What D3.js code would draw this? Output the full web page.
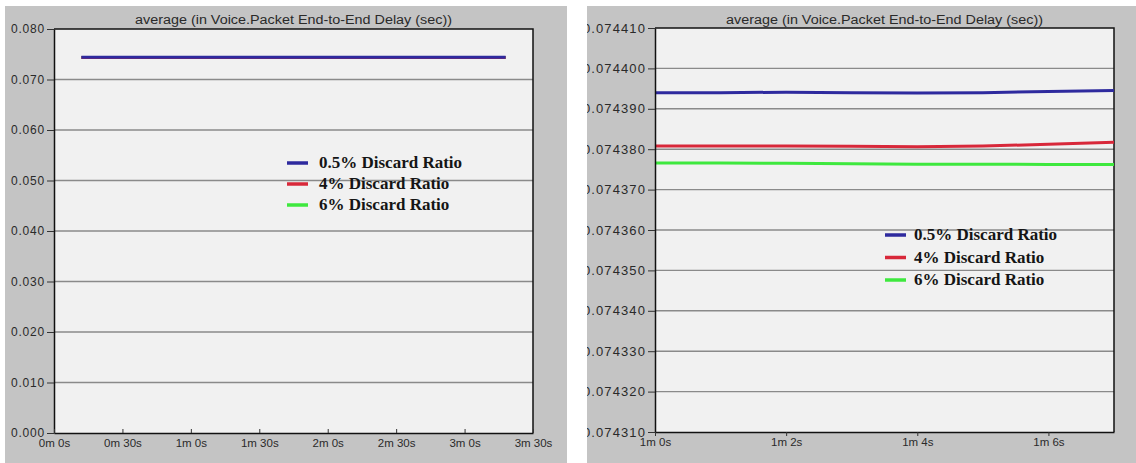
<!DOCTYPE html>
<html>
<head>
<meta charset="utf-8">
<script src="https://cdn.jsdelivr.net/npm/d3@7"></script>
<style>
  body { margin: 0; background: #fff; }
  svg { display: block; }
</style>
</head>
<body>
<svg width="1136" height="463"></svg>
<script>
// series
const seriesNames = ['0.5% Discard Ratio', '4% Discard Ratio', '6% Discard Ratio'];
const seriesColors = ['#2e2a9e', '#d8283a', '#3ee83e'];

// left chart: whole run (seconds)
const fullTimes = [12, 30, 60, 90, 120, 150, 180, 198];
const fullDelay05 = [0.074394, 0.074394, 0.074394, 0.074394, 0.074394, 0.074394, 0.074394, 0.074394];
const fullDelay4 = [0.074381, 0.074381, 0.074381, 0.074381, 0.074381, 0.074381, 0.074381, 0.074381];
const fullDelay6 = [0.074377, 0.074377, 0.074377, 0.074377, 0.074377, 0.074377, 0.074377, 0.074377];
const fullXTicks = [0, 30, 60, 90, 120, 150, 180, 210];
const fullYTicks = [0, 0.01, 0.02, 0.03, 0.04, 0.05, 0.06, 0.07, 0.08];

// right chart: zoom 1m0s..1m7s
const zoomTimes = [60, 61, 62, 63, 64, 65, 66, 67];
const zoomDelay05 = [0.0743940, 0.0743940, 0.0743941, 0.0743940, 0.0743939, 0.0743940, 0.0743943, 0.0743945];
const zoomDelay4 = [0.0743808, 0.0743808, 0.0743808, 0.0743807, 0.0743806, 0.0743808, 0.0743812, 0.0743817];
const zoomDelay6 = [0.0743766, 0.0743766, 0.0743765, 0.0743764, 0.0743763, 0.0743763, 0.0743762, 0.0743762];
const zoomXTicks = [60, 62, 64, 66];
const zoomYTicks = [0.07431, 0.07432, 0.07433, 0.07434, 0.07435, 0.07436, 0.07437, 0.07438, 0.07439, 0.0744, 0.07441];

const title = 'average (in Voice.Packet End-to-End Delay (sec))';
const fmtTime = s => `${Math.floor(s / 60)}m ${s % 60}s`;

const svg = d3.select('svg');

function drawPanel(cfg) {
  const g = svg.append('g');
  const clipId = 'clip' + cfg.id;
  svg.append('clipPath').attr('id', clipId)
    .append('rect').attr('x', cfg.panel[0]).attr('y', cfg.panel[1])
    .attr('width', cfg.panel[2] - cfg.panel[0]).attr('height', cfg.panel[3] - cfg.panel[1]);

  g.append('rect')
    .attr('x', cfg.panel[0]).attr('y', cfg.panel[1])
    .attr('width', cfg.panel[2] - cfg.panel[0]).attr('height', cfg.panel[3] - cfg.panel[1])
    .attr('fill', '#c4c4c4');

  const x = d3.scaleLinear().domain(cfg.xDomain).range([cfg.left, cfg.right]);
  const y = d3.scaleLinear().domain(cfg.yDomain).range([cfg.bottom, cfg.top]);

  g.append('rect')
    .attr('x', cfg.left).attr('y', cfg.top)
    .attr('width', cfg.right - cfg.left).attr('height', cfg.bottom - cfg.top)
    .attr('fill', '#f1f1f1');

  // grid
  g.append('g').selectAll('line')
    .data(cfg.yTicks.slice(1, -1))
    .join('line')
    .attr('x1', cfg.left).attr('x2', cfg.right)
    .attr('y1', d => y(d)).attr('y2', d => y(d))
    .attr('stroke', '#8a8a8a').attr('stroke-width', 1.4);

  // frame top / right
  g.append('path')
    .attr('d', `M${cfg.left},${cfg.top}H${cfg.right}V${cfg.bottom}`)
    .attr('fill', 'none').attr('stroke', '#111').attr('stroke-width', 1.5);

  // series
  const line = d3.line().x(d => x(d[0])).y(d => y(d[1]));
  const series = cfg.series.map((vals, i) => ({ color: seriesColors[i], pts: cfg.times.map((t, j) => [t, vals[j]]) }));
  g.append('g').selectAll('path')
    .data(series.slice().reverse())
    .join('path')
    .attr('d', d => line(d.pts))
    .attr('fill', 'none')
    .attr('stroke', d => d.color)
    .attr('stroke-width', 3);

  // axes
  const yAxis = g.append('g')
    .attr('clip-path', `url(#${clipId})`)
    .append('g')
    .attr('transform', `translate(${cfg.left},0)`)
    .call(d3.axisLeft(y).tickValues(cfg.yTicks).tickFormat(cfg.yFormat).tickSize(7).tickSizeOuter(0));
  yAxis.select('.domain').attr('stroke', '#111').attr('stroke-width', 1.5);
  yAxis.selectAll('.tick line').attr('stroke', '#333');
  yAxis.selectAll('text')
    .attr('font-family', 'Liberation Sans, Arial, sans-serif')
    .attr('font-size', cfg.yFont).attr('letter-spacing', cfg.ySpacing)
    .attr('fill', '#2a2a2a').attr('x', -9);

  const xAxis = g.append('g')
    .attr('transform', `translate(0,${cfg.bottom})`)
    .call(d3.axisBottom(x).tickValues(cfg.xTicks).tickFormat(fmtTime).tickSize(cfg.xTickSize).tickSizeOuter(0));
  xAxis.select('.domain').attr('stroke', '#111').attr('stroke-width', 1.5);
  xAxis.selectAll('.tick line').attr('stroke', '#333');
  xAxis.selectAll('text')
    .attr('font-family', 'Liberation Sans, Arial, sans-serif')
    .attr('font-size', 11.5).attr('fill', '#2a2a2a')
    .attr('y', 6).attr('dy', '0.71em');

  // title
  g.append('text')
    .attr('x', (cfg.left + cfg.right) / 2).attr('y', 24)
    .attr('text-anchor', 'middle')
    .attr('font-family', 'Liberation Sans, Arial, sans-serif')
    .attr('font-size', 12).attr('fill', '#2a2a2a')
    .attr('textLength', 317).attr('lengthAdjust', 'spacingAndGlyphs')
    .text(title);

  // legend
  const lg = g.append('g').selectAll('g')
    .data(seriesNames)
    .join('g')
    .attr('transform', (d, i) => `translate(0,${cfg.legend.y + i * cfg.legend.step})`);
  lg.append('line')
    .attr('x1', cfg.legend.dashX).attr('x2', cfg.legend.dashX + 21)
    .attr('y1', -5).attr('y2', -5)
    .attr('stroke', (d, i) => seriesColors[i]).attr('stroke-width', 3.5);
  lg.append('text')
    .attr('x', cfg.legend.textX)
    .attr('font-family', 'Liberation Serif, Times New Roman, serif')
    .attr('font-weight', 'bold').attr('font-size', 17).attr('fill', '#151515')
    .text(d => d);
}

drawPanel({
  id: 'L',
  panel: [5, 6, 567, 463],
  left: 54, right: 533, top: 29, bottom: 433,
  xDomain: [0, 210], yDomain: [0, 0.08],
  xTicks: fullXTicks, yTicks: fullYTicks,
  yFormat: d3.format('.3f'), yFont: 12, ySpacing: 0.8,
  xTickSize: -4,
  times: fullTimes, series: [fullDelay05, fullDelay4, fullDelay6],
  legend: { dashX: 287, textX: 319, y: 168, step: 21 }
});

drawPanel({
  id: 'R',
  panel: [587, 6, 1136, 463],
  left: 655, right: 1114, top: 28, bottom: 432,
  xDomain: [60, 67], yDomain: [0.07431, 0.07441],
  xTicks: zoomXTicks, yTicks: zoomYTicks,
  yFormat: d3.format('.6f'), yFont: 13, ySpacing: 1.1,
  xTickSize: 4,
  times: zoomTimes, series: [zoomDelay05, zoomDelay4, zoomDelay6],
  legend: { dashX: 885, textX: 914, y: 240, step: 22.5 }
});
</script>
</body>
</html>
